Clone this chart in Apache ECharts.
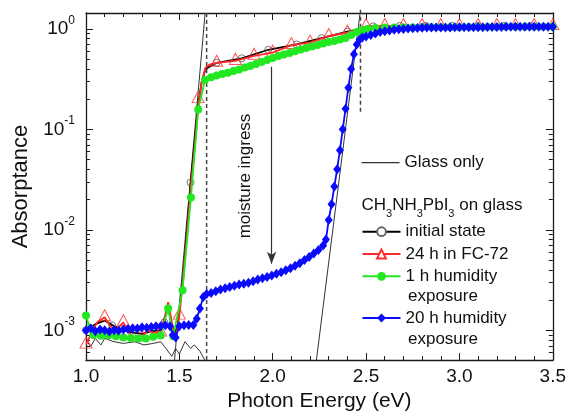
<!DOCTYPE html>
<html><head><meta charset="utf-8">
<script src="https://cdn.jsdelivr.net/npm/echarts@6/dist/echarts.min.js"></script>
<style>html,body{margin:0;padding:0;background:#fff}#c{width:569px;height:417px}</style>
</head><body><div id="c"></div>
<script>
// ---------- data (photon energy in eV, absorptance) ----------
const yMajorTicks = [1e-3, 1e-2, 1e-1, 1];
const xTickStep = 0.5;

const glassE = [1.00,1.025,1.05,1.08,1.10,1.15,1.20,1.26,1.31,1.36,1.40,1.42,1.46,1.48,1.50,1.53,1.56,1.58,1.61,1.63,1.65,1.70];
const glassA = [8.0e-4,6.9e-4,8.3e-4,7.15e-4,8.3e-4,7.7e-4,7.4e-4,7.7e-4,7.15e-4,7.4e-4,7.7e-4,6.9e-4,5.5e-4,6.6e-4,5.8e-4,7.7e-4,6.6e-4,7.15e-4,6.2e-4,5.3e-4,4.6e-4,4.0e-4];

const fit1E = [1.474, 1.638];
const fit1A = [5.05e-4, 1.44];
const fit2E = [2.234, 2.468];
const fit2A = [5.05e-4, 1.44];
const dash1E = [1.646, 1.646];
const dash1A = [5.05e-4, 1.44];
const dash2E = [2.47, 2.47];
const dash2A = [0.15, 1.6];

const blackE = [1.00,1.05,1.10,1.15,1.20,1.25,1.30,1.35,1.40,1.44,1.47,1.49,1.52,1.56,1.60,1.62,1.64,1.70,1.834,1.976,2.128,2.262,2.40,2.538,2.68,2.82,2.96,3.10,3.24,3.38,3.50];
const blackA = [1.0e-3,1.15e-3,1.25e-3,1.1e-3,1.0e-3,9.5e-4,9.2e-4,9.8e-4,1.0e-3,1.7e-3,9.0e-4,1.1e-3,3.3e-3,0.028,0.17,0.30,0.40,0.46,0.51,0.62,0.70,0.81,0.94,1.06,1.07,1.07,1.07,1.07,1.07,1.07,1.07];
const blackMarkE = [1.0,1.14,1.28,1.42,1.56,1.70,1.834,1.976,2.128,2.262,2.40,2.538,2.68,2.82,2.96,3.10,3.24,3.38];
const blackMarkA = [1.0e-3,1.12e-3,9.3e-4,1.2e-3,0.0296,0.46,0.51,0.62,0.70,0.81,0.94,1.06,1.07,1.07,1.07,1.07,1.07,1.07];

const redE = [1.00,1.03,1.06,1.10,1.13,1.16,1.20,1.23,1.26,1.30,1.33,1.36,1.40,1.42,1.44,1.46,1.48,1.50,1.52,1.54,1.56,1.58,1.60,1.62,1.64,1.66,1.70,1.80,1.90,2.00,2.10,2.20,2.30,2.40,2.50,2.60,2.70,2.80,2.90,3.00,3.10,3.20,3.30,3.40,3.50];
const redA = [7.2e-4,9.5e-4,1.2e-3,1.35e-3,1.1e-3,1.0e-3,1.2e-3,9.5e-4,8.3e-4,8.5e-4,1.0e-3,9.5e-4,9.5e-4,1.3e-3,1.9e-3,1.2e-3,8.0e-4,1.4e-3,3.2e-3,8.5e-3,0.025,0.06,0.16,0.30,0.41,0.44,0.46,0.48,0.54,0.58,0.69,0.73,0.85,0.92,1.06,1.07,1.07,1.07,1.07,1.07,1.07,1.07,1.07,1.07,1.07];
const redMarkE = [1.0,1.1,1.2,1.3,1.4,1.5,1.6,1.7,1.8,1.9,2.0,2.1,2.2,2.3,2.4,2.5,2.6,2.7,2.8,2.9,3.0,3.1,3.2,3.3,3.4,3.5];
const redMarkA = [7.2e-4,1.35e-3,1.2e-3,8.5e-4,9.5e-4,1.4e-3,0.20,0.46,0.48,0.54,0.58,0.69,0.73,0.85,0.92,1.06,1.07,1.07,1.07,1.07,1.07,1.07,1.07,1.07,1.07,1.07];

const greenE = [1.00,1.02,1.04,1.08,1.12,1.16,1.20,1.24,1.28,1.32,1.36,1.40,1.44,1.467,1.517,1.562,1.601,1.637,
  1.67,1.70,1.73,1.76,1.79,1.82,1.85,1.88,1.91,1.94,1.97,2.00,2.03,2.06,2.09,2.12,2.15,2.18,2.21,2.24,2.27,2.30,2.33,2.36,2.39,2.42,2.45,2.48,2.51,
  2.55,2.60,2.65,2.70,2.75,2.80,2.85,2.90,2.95,3.00,3.05,3.10,3.15,3.20,3.25,3.30,3.35,3.40,3.45,3.50];
const greenA = [1.40e-3,1.05e-3,9.0e-4,8.8e-4,8.9e-4,8.7e-4,8.5e-4,8.4e-4,8.3e-4,8.3e-4,8.6e-4,8.9e-4,1.65e-3,8.7e-4,2.5e-3,0.021,0.158,0.31,
  0.331,0.343,0.355,0.367,0.380,0.394,0.412,0.427,0.447,0.468,0.490,0.513,0.537,0.556,0.575,0.600,0.624,0.646,0.668,0.692,0.716,0.741,0.759,0.785,0.813,0.871,0.933,0.977,1.00,
  1.02,1.03,1.03,1.03,1.035,1.04,1.04,1.04,1.04,1.04,1.045,1.045,1.045,1.045,1.05,1.05,1.05,1.05,1.05,1.05];

const blueE = [1.000,1.025,1.050,1.075,1.100,1.125,1.150,1.175,1.200,1.225,1.250,1.275,1.300,1.325,1.350,1.375,1.400,1.425,1.450,1.465,1.480,1.500,1.525,1.550,1.575,1.593,1.610,1.628,1.646,
  1.670,1.695,1.720,1.745,1.770,1.795,1.820,1.845,1.870,1.895,1.920,1.945,1.970,1.995,2.020,2.045,2.070,2.095,2.120,2.145,2.170,2.195,2.220,2.245,
  2.270,2.285,2.300,2.315,2.330,2.345,2.360,2.375,2.390,2.405,2.420,2.435,2.450,2.465,2.480,
  2.500,2.525,2.550,2.575,2.600,2.625,2.650,2.675,2.700,2.725,2.750,2.775,2.800,2.825,2.850,2.875,2.900,2.925,2.950,2.975,3.000,3.025,3.050,3.075,3.100,3.125,3.150,3.175,3.200,3.225,3.250,3.275,3.300,3.325,3.350,3.375,3.400,3.425,3.450,3.475,3.500];
const blueA = [1.00e-3,1.05e-3,9.8e-4,1.02e-3,1.00e-3,9.7e-4,1.00e-3,9.9e-4,1.02e-3,1.03e-3,1.05e-3,1.04e-3,1.07e-3,1.06e-3,1.08e-3,1.10e-3,1.10e-3,1.12e-3,1.10e-3,9.0e-4,8.5e-4,1.10e-3,1.12e-3,1.13e-3,1.13e-3,1.30e-3,1.65e-3,2.15e-3,2.30e-3,
  2.35e-3,2.45e-3,2.55e-3,2.62e-3,2.70e-3,2.78e-3,2.85e-3,2.90e-3,2.98e-3,3.08e-3,3.20e-3,3.30e-3,3.40e-3,3.52e-3,3.65e-3,3.78e-3,3.95e-3,4.15e-3,4.40e-3,4.65e-3,5.00e-3,5.35e-3,5.80e-3,6.30e-3,
  7.0e-3,8.0e-3,0.0125,0.018,0.027,0.040,0.062,0.10,0.16,0.26,0.40,0.56,0.70,0.78,0.82,
  0.84,0.87,0.90,0.93,0.95,0.965,0.98,0.99,1.00,1.01,1.015,1.02,1.025,1.03,1.03,1.03,1.035,1.035,1.035,1.04,1.04,1.04,1.04,1.04,1.04,1.04,1.045,1.045,1.045,1.045,1.05,1.05,1.05,1.05,1.05,1.05,1.05,1.05,1.05,1.05,1.05];

const arrowE = [1.994, 1.994];
const arrowA = [0.0046, 0.42];

// ---------- chart ----------
const FONT = '"Liberation Sans", Arial, Helvetica, sans-serif';
const YMIN = 5.05e-4, YMAX = 1.44;
const pairs = (xs, ys) => xs.map((x, i) => [x, ys[i]]);
const minorY = [];
for (let d = -4; d <= -1; d++) for (let k = 2; k <= 9; k++) {
  const v = k * Math.pow(10, d);
  if (v > YMIN && v < YMAX) minorY.push(v);
}
const AX = '#1a1a1a';
function yAxisDef(pos, major) {
  return {
    type: 'log', logBase: 10, min: YMIN, max: YMAX, position: pos,
    axisLine: { show: major, lineStyle: { color: AX, width: 1.3 } },
    axisTick: { show: true, inside: true, length: major ? 7 : 4, customValues: major ? yMajorTicks : minorY, lineStyle: { color: AX, width: 1 } },
    axisLabel: (major && pos === 'left') ? {
      show: true, margin: 11, customValues: yMajorTicks,
      formatter: v => '{b|10}{s|' + Math.round(Math.log10(v)) + '}',
      rich: { b: { fontSize: 19, fontFamily: FONT, color: '#111' }, s: { fontSize: 12, fontFamily: FONT, color: '#111', padding: [0, 0, 17, 0] } }
    } : { show: false },
    splitLine: { show: false }, minorTick: { show: false },
    name: (major && pos === 'left') ? 'Absorptance' : '',
    nameLocation: 'middle', nameGap: 54,
    nameTextStyle: { fontSize: 22, fontFamily: FONT, color: '#111' }
  };
}
function xAxisDef(pos) {
  const bottom = pos === 'bottom';
  return {
    type: 'value', min: 1, max: 3.5, interval: xTickStep, position: pos,
    axisLine: { show: true, lineStyle: { color: AX, width: 1.3 } },
    axisTick: { show: true, inside: true, length: 7, lineStyle: { color: AX, width: 1 } },
    minorTick: { show: true, splitNumber: 5, length: 4, lineStyle: { color: AX, width: 1 } },
    axisLabel: { show: bottom, margin: 7, fontSize: 19, fontFamily: FONT, color: '#111', formatter: v => v.toFixed(1) },
    splitLine: { show: false }, minorSplitLine: { show: false },
    name: bottom ? 'Photon Energy (eV)' : '', nameLocation: 'middle', nameGap: 29,
    nameTextStyle: { fontSize: 21, fontFamily: FONT, color: '#111' }
  };
}
const RED = '#ff2a2a', GREEN = '#22e822', BLUE = '#0a0aff';
const plain = (name, xs, ys, style) => ({
  type: 'line', name, data: pairs(xs, ys), symbol: 'none', showSymbol: false, silent: true,
  lineStyle: style, itemStyle: { color: style.color }, z: 2
});
const legendCommon = {
  orient: 'vertical', left: 361.5, padding: 0, itemWidth: 38, itemHeight: 11, selectedMode: false,
  textStyle: { fontSize: 17, lineHeight: 18, fontFamily: FONT, color: '#111' },
  formatter: n => n.replace(' exposure', '')
};
const option = {
  animation: false,
  backgroundColor: '#fff',
  textStyle: { fontFamily: FONT },
  grid: { left: 86, right: 16, top: 13, bottom: 55, containLabel: false },
  xAxis: [xAxisDef('bottom'), xAxisDef('top')],
  yAxis: [yAxisDef('left', true), yAxisDef('left', false), yAxisDef('right', true), yAxisDef('right', false)],
  legend: [
    Object.assign({}, legendCommon, { top: 153.7, itemHeight: 1.3, data: [{ name: 'Glass only', icon: 'rect' }] }),
    Object.assign({}, legendCommon, { top: 222.7, itemGap: 4.3, data: ['initial state', '24 h in FC-72', '1 h humidity exposure'] }),
    Object.assign({}, legendCommon, { top: 309, data: ['20 h humidity exposure'] })
  ],
  graphic: [
    { type: 'text', x: 245, y: 176, rotation: Math.PI / 2, silent: true,
      style: { text: 'moisture ingress', fontSize: 17, fontFamily: FONT, fill: '#111', align: 'center', verticalAlign: 'middle' } },
    { type: 'text', x: 361.5, y: 205, silent: true,
      style: { text: '{n|CH}{s|3}{n|NH}{s|3}{n|PbI}{s|3}{n| on glass}', align: 'left', verticalAlign: 'middle',
        rich: { n: { fontSize: 17, fontFamily: FONT, fill: '#111', color: '#111' }, s: { fontSize: 11, fontFamily: FONT, color: '#111', fill: '#111', padding: [18, 0, 0, 0] } } } },
    { type: 'text', x: 408, y: 296.7, silent: true,
      style: { text: 'exposure', fontSize: 17, fontFamily: FONT, fill: '#111', align: 'left', verticalAlign: 'middle' } },
    { type: 'text', x: 408, y: 339, silent: true,
      style: { text: 'exposure', fontSize: 17, fontFamily: FONT, fill: '#111', align: 'left', verticalAlign: 'middle' } }
  ],
  series: [
    Object.assign(plain('Glass only', glassE, glassA, { color: '#333', width: 1 }), {
      markLine: {
        silent: true, symbol: ['arrow', 'none'], symbolSize: [7, 12],
        lineStyle: { color: '#333', width: 1.2, type: 'solid' }, label: { show: false },
        data: [[{ coord: [arrowE[0], arrowA[0]] }, { coord: [arrowE[1], arrowA[1]] }]]
      }
    }),
    plain('fit1', fit1E, fit1A, { color: '#333', width: 1 }),
    plain('fit2', fit2E, fit2A, { color: '#333', width: 1 }),
    plain('dash1', dash1E, dash1A, { color: '#444', width: 1.5, type: [4, 3] }),
    Object.assign(plain('dash2', dash2E, dash2A, { color: '#444', width: 1.5, type: [4, 3] }), { clip: false }),
    { type: 'line', name: 'initial state', data: pairs(blackE, blackA), symbol: 'circle', showSymbol: false, z: 3,
      lineStyle: { color: '#000', width: 1.8 }, itemStyle: { color: '#fff', borderColor: '#666', borderWidth: 1 } },
    { type: 'scatter', name: 'initial markers', data: pairs(blackMarkE, blackMarkA), symbol: 'circle', symbolSize: 7, z: 3, silent: true,
      itemStyle: { color: 'rgba(255,255,255,0)', borderColor: '#555', borderWidth: 1 } },
    { type: 'line', name: '24 h in FC-72', data: pairs(redE, redA), symbol: 'triangle', showSymbol: false, z: 4,
      lineStyle: { color: RED, width: 1.8 }, itemStyle: { color: '#fff', borderColor: RED, borderWidth: 1 } },
    { type: 'scatter', name: '24 h markers', data: pairs(redMarkE, redMarkA), symbol: 'triangle', symbolSize: [12, 11], symbolOffset: [0, -2], z: 4, silent: true,
      itemStyle: { color: 'rgba(255,255,255,0)', borderColor: RED, borderWidth: 1 } },
    { type: 'line', name: '1 h humidity exposure', data: pairs(greenE, greenA), symbol: 'circle', symbolSize: 8, showSymbol: true, z: 5, silent: true,
      lineStyle: { color: GREEN, width: 1.8 }, itemStyle: { color: GREEN } },
    { type: 'line', name: '20 h humidity exposure', data: pairs(blueE, blueA), symbol: 'diamond', symbolSize: [8, 10], showSymbol: true, z: 6, silent: true,
      lineStyle: { color: BLUE, width: 1.8 }, itemStyle: { color: BLUE } }
  ]
};
const chart = echarts.init(document.getElementById('c'));
chart.setOption(option);
</script>
</body></html>
